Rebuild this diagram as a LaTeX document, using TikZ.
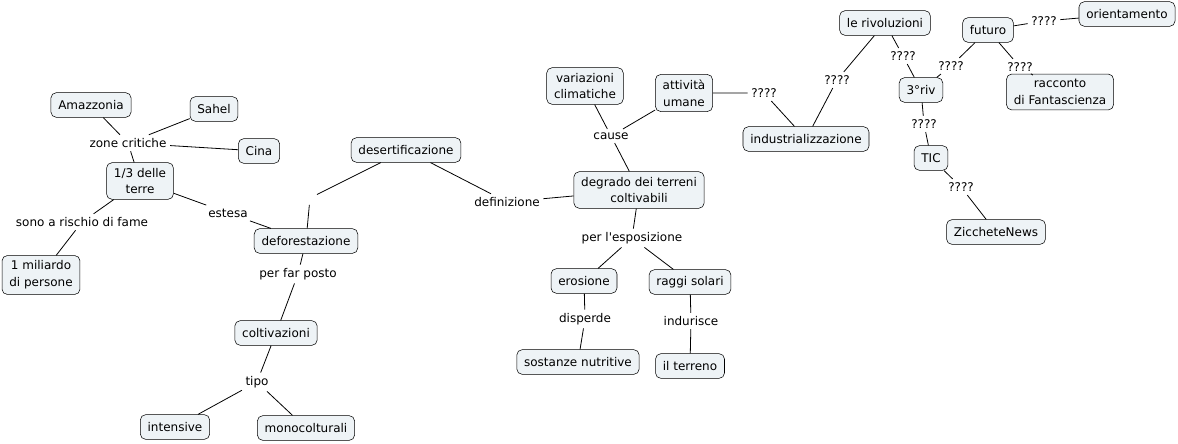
\documentclass[tikz,border=0pt]{standalone}
\usepackage{fontspec}
\setmainfont{DejaVu Sans}
\usepackage{tikz}
\usepackage{xcolor}
\definecolor{conceptfill}{RGB}{238,243,246}

\begin{document}
\begin{tikzpicture}[x=0.75pt,y=-0.75pt,
                    font=\fontsize{9}{12.5}\selectfont,
                    concept/.style={draw,rounded corners=4pt,fill=conceptfill,align=center,
                                    inner xsep=5.5pt,inner ysep=4pt,minimum height=18.5pt},
                    phrase/.style={inner sep=2.5pt,align=center},
                    link/.style={draw,line width=0.6pt}]
                    \useasboundingbox (0,0) rectangle (1178,443);
                    \node[concept] (amazzonia) at (91,105) {Amazzonia};
                    \node[concept] (sahel) at (214,109) {Sahel};
                    \node[concept] (cina) at (259,151) {Cina};
                    \node[phrase] (zone) at (128,143) {zone critiche};
                    \node[concept] (terre) at (140,181) {1/3 delle\\terre};
                    \node[phrase] (rischio) at (82,222) {sono a rischio di fame};
                    \node[concept] (miliardo) at (41,275) {1 miliardo\\di persone};
                    \node[phrase] (estesa) at (228,213) {estesa};
                    \node[concept] (defor) at (306,241) {deforestazione};
                    \node[phrase] (posto) at (298,274) {per far posto};
                    \node[concept] (coltiv) at (276,333) {coltivazioni};
                    \node[phrase] (tipo) at (257,382) {tipo};
                    \node[concept] (intensive) at (175,427) {intensive};
                    \node[concept] (monocolt) at (306,428) {monocolturali};
                    \node[concept] (desert) at (406,150) {desertificazione};
                    \node[phrase,minimum size=10pt] (vuoto) at (310,198) {};
                    \node[phrase] (definiz) at (507,202) {definizione};
                    \node[concept] (degrado) at (639,190) {degrado dei terreni\\coltivabili};
                    \node[phrase] (cause) at (611,136) {cause};
                    \node[concept] (variaz) at (585,86) {variazioni\\climatiche};
                    \node[concept] (attivita) at (684,93) {attività\\umane};
                    \node[phrase] (qa) at (764,93) {????};
                    \node[concept] (industr) at (806,139) {industrializzazione};
                    \node[phrase] (qb) at (837,80) {????};
                    \node[concept] (rivol) at (885,23) {le rivoluzioni};
                    \node[phrase] (qc) at (903,56) {????};
                    \node[concept] (riv3) at (921,90) {3°riv};
                    \node[phrase] (qd) at (951,66) {????};
                    \node[concept] (futuro) at (988,30) {futuro};
                    \node[phrase] (qe) at (1044,21) {????};
                    \node[concept] (orient) at (1127,14) {orientamento};
                    \node[phrase] (qf) at (1020,67) {????};
                    \node[concept] (racconto) at (1060,92) {racconto\\di Fantascienza};
                    \node[phrase] (qg) at (924,124) {????};
                    \node[concept] (tic) at (931,158) {TIC};
                    \node[phrase] (qh) at (961,187) {????};
                    \node[concept] (zicc) at (996,232) {ZiccheteNews};
                    \node[phrase] (esposiz) at (632,238) {per l\textquotesingle esposizione};
                    \node[concept] (erosione) at (584,281) {erosione};
                    \node[concept] (raggi) at (690,282) {raggi solari};
                    \node[phrase] (disperde) at (585,319) {disperde};
                    \node[concept] (sostanze) at (578,362) {sostanze nutritive};
                    \node[phrase] (indurisce) at (691,321) {indurisce};
                    \node[concept] (terreno) at (690,366) {il terreno};

                    \path[link] (terre) -- (zone) (zone) -- (amazzonia) (zone) -- (sahel) (zone) -- (cina);
                    \path[link] (terre) -- (rischio) (rischio) -- (miliardo);
                    \path[link] (terre) -- (estesa) (estesa) -- (defor);
                    \path[link] (desert) -- (vuoto) (vuoto) -- (defor);
                    \path[link] (defor) -- (posto) (posto) -- (coltiv);
                    \path[link] (coltiv) -- (tipo) (tipo) -- (intensive) (tipo) -- (monocolt);
                    \path[link] (desert) -- (definiz) (definiz) -- (degrado);
                    \path[link] (degrado) -- (cause) (cause) -- (variaz) (cause) -- (attivita);
                    \path[link] (attivita) -- (qa) (qa) -- (industr);
                    \path[link] (industr) -- (qb) (qb) -- (rivol);
                    \path[link] (rivol) -- (qc) (qc) -- (riv3);
                    \path[link] (futuro) -- (qd) (qd) -- (riv3);
                    \path[link] (futuro) -- (qe) (qe) -- (orient);
                    \path[link] (futuro) -- (qf) (qf) -- (racconto);
                    \path[link] (riv3) -- (qg) (qg) -- (tic);
                    \path[link] (tic) -- (qh) (qh) -- (zicc);
                    \path[link] (degrado) -- (esposiz) (esposiz) -- (erosione) (esposiz) -- (raggi);
                    \path[link] (erosione) -- (disperde) (disperde) -- (sostanze);
                    \path[link] (raggi) -- (indurisce) (indurisce) -- (terreno);
                \end{tikzpicture}
\end{document}
